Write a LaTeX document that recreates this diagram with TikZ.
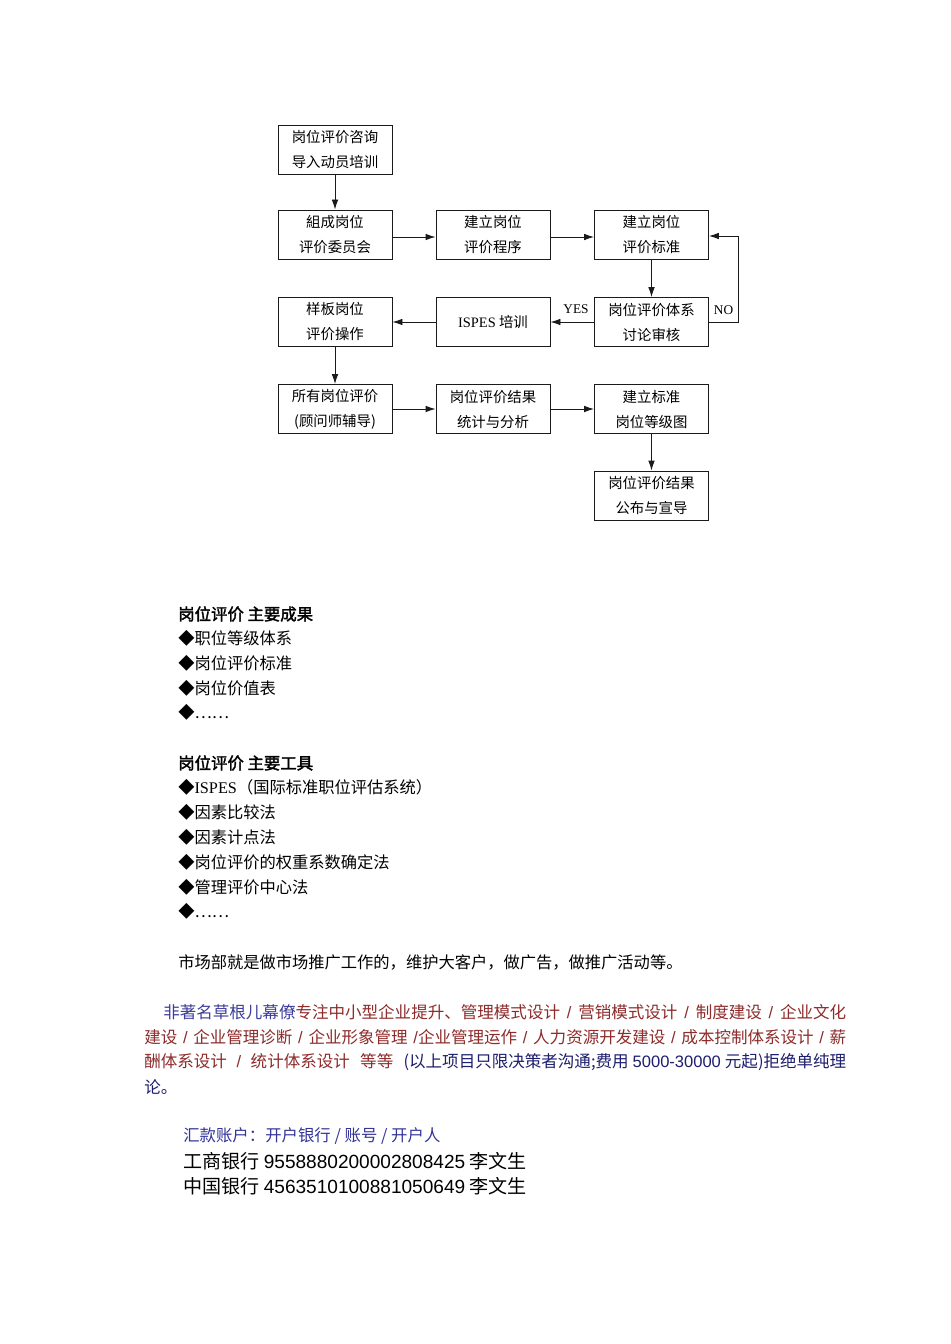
\documentclass[tikz,border=0pt]{standalone}
\usepackage{fontspec}
\usetikzlibrary{arrows.meta}
\setmainfont{Liberation Serif}
\newfontfamily\cjk{Noto Sans CJK SC}
\newfontfamily\cjkbf[FakeBold=2]{Noto Sans CJK SC}
\newfontfamily\arial{Liberation Sans}
\definecolor{nblue}{HTML}{3C3C9C}
\definecolor{dred}{HTML}{8E2B2B}
\definecolor{navy}{HTML}{1E1E6E}
\definecolor{hblue}{HTML}{333399}
\definecolor{lnc}{HTML}{1A1A1A}
\newcommand\sepS{\hspace{2.5pt plus 3pt}{\arial /}\hspace{2.5pt plus 3pt}}
\newcommand\sepL{\hspace{2.5pt plus 3pt}{\arial /}}
\newcommand\gapS{\hspace{3pt plus 3pt}}
\tikzset{
  box/.style={draw=lnc, line width=0.7pt, minimum width=85.5pt, minimum height=36.75pt,
    align=center, inner sep=0pt, font=\cjk\fontsize{10.8}{18.75}\selectfont},
  conn/.style={draw=lnc, line width=0.7pt, -{Latex[length=7.5pt,width=5pt]}},
  lbl/.style={font=\fontsize{10}{12}\selectfont, inner sep=0pt},
  txt/.style={anchor=west, inner sep=0pt, font=\cjk\fontsize{12.2}{14}\selectfont},
  hd/.style={anchor=west, inner sep=0pt, font=\cjkbf\fontsize{12.3}{14}\selectfont},
  par/.style={anchor=west, inner sep=0pt, font=\cjk\fontsize{12.4}{14}\selectfont},
}
\begin{document}
\begin{tikzpicture}[x=0.75pt,y=-0.75pt]
\useasboundingbox[fill=white] (0,0) rectangle (950,1344);
% flowchart boxes
\node[box] (A) at (335,149.5) {岗位评价咨询\\导入动员培训};
\node[box] (B) at (335,234.5) {組成岗位\\评价委员会};
\node[box] (C) at (493,234.5) {建立岗位\\评价程序};
\node[box] (D) at (651.5,234.5) {建立岗位\\评价标准};
\node[box] (E) at (335,322) {样板岗位\\评价操作};
\node[box] (F) at (493,322) {{\rmfamily ISPES} 培训};
\node[box] (G) at (651.5,322) {岗位评价体系\\讨论审核};
\node[box] (H) at (335,409) {所有岗位评价\\(顾问师辅导)};
\node[box] (I) at (493,409) {岗位评价结果\\统计与分析};
\node[box] (J) at (651.5,409) {建立标准\\岗位等级图};
\node[box] (K) at (651.5,495.5) {岗位评价结果\\公布与宣导};
% connectors
\draw[conn] (A) -- (B);
\draw[conn] (B.east |- 0,237) -- (C.west |- 0,237);
\draw[conn] (C.east |- 0,237) -- (D.west |- 0,237);
\draw[conn] (D) -- (G);
\draw[conn] (G) -- (F);
\draw[conn] (F) -- (E);
\draw[conn] (E) -- (H);
\draw[conn] (H) -- (I);
\draw[conn] (I) -- (J);
\draw[conn] (J) -- (K);
\coordinate (nr) at (738,322);
\draw[conn] (G.east) -- (nr) -- (nr |- 0,236) -- (D.east |- 0,236);
\node[lbl, fill=white, minimum width=21pt, minimum height=18pt] (no) at (723.5,310) {NO};
\node[lbl] (yes) at (576,309) {YES};
% results
\node[hd] (h1) at (178,614) {岗位评价 主要成果};
\node[txt] (r1) at (178,638.5) {◆职位等级体系};
\node[txt] (r2) at (178,663) {◆岗位评价标准};
\node[txt] (r3) at (178,688) {◆岗位价值表};
\node[txt] (r4) at (178,712) {◆……};
% tools
\node[hd] (h2) at (178,763) {岗位评价 主要工具};
\node[txt] (t1) at (178,787.5) {◆{\rmfamily ISPES}（国际标准职位评估系统）};
\node[txt] (t2) at (178,812.5) {◆因素比较法};
\node[txt] (t3) at (178,837) {◆因素计点法};
\node[txt] (t4) at (178,862) {◆岗位评价的权重系数确定法};
\node[txt] (t5) at (178,887) {◆管理评价中心法};
\node[txt] (t6) at (178,911) {◆……};
\node[txt] (m) at (178,962) {市场部就是做市场推广工作的，维护大客户，做广告，做推广活动等。};
% paragraph
\node[par] (p1) at (163,1012) {\makebox[512.25pt][s]{\color{nblue}非著名草根儿幕僚\color{dred}专注中小型企业提升、管理模式设计\sepS 营销模式设计\sepS 制度建设\sepS 企业文化}};
\node[par, text=dred] (p2) at (144,1037) {\makebox[526.5pt][s]{建设\sepS 企业管理诊断\sepS 企业形象管理\sepL 企业管理运作\sepS 人力资源开发建设\sepS 成本控制体系设计\sepS 薪}};
\node[par] (p3) at (144,1062) {\makebox[526.5pt][s]{\color{dred}酬体系设计\sepS 统计体系设计\gapS 等等\gapS\color{navy}(以上项目只限决策者沟通;费用\hspace{3pt}{\arial 5000-30000}\hspace{3pt}元起)拒绝单纯理}};
\node[par, text=navy] (p4) at (144,1087) {论。};
% accounts
\node[txt, font=\cjk\fontsize{12.3}{14}\selectfont, text=hblue] (acc) at (183,1136) {汇款账户：开户银行 / 账号 / 开户人};
\node[txt, font=\cjk\fontsize{14.3}{16}\selectfont] (b1) at (183,1161) {工商银行 {\arial 9558880200002808425} 李文生};
\node[txt, font=\cjk\fontsize{14.3}{16}\selectfont] (b2) at (183,1186) {中国银行 {\arial 4563510100881050649} 李文生};
\end{tikzpicture}
\end{document}
